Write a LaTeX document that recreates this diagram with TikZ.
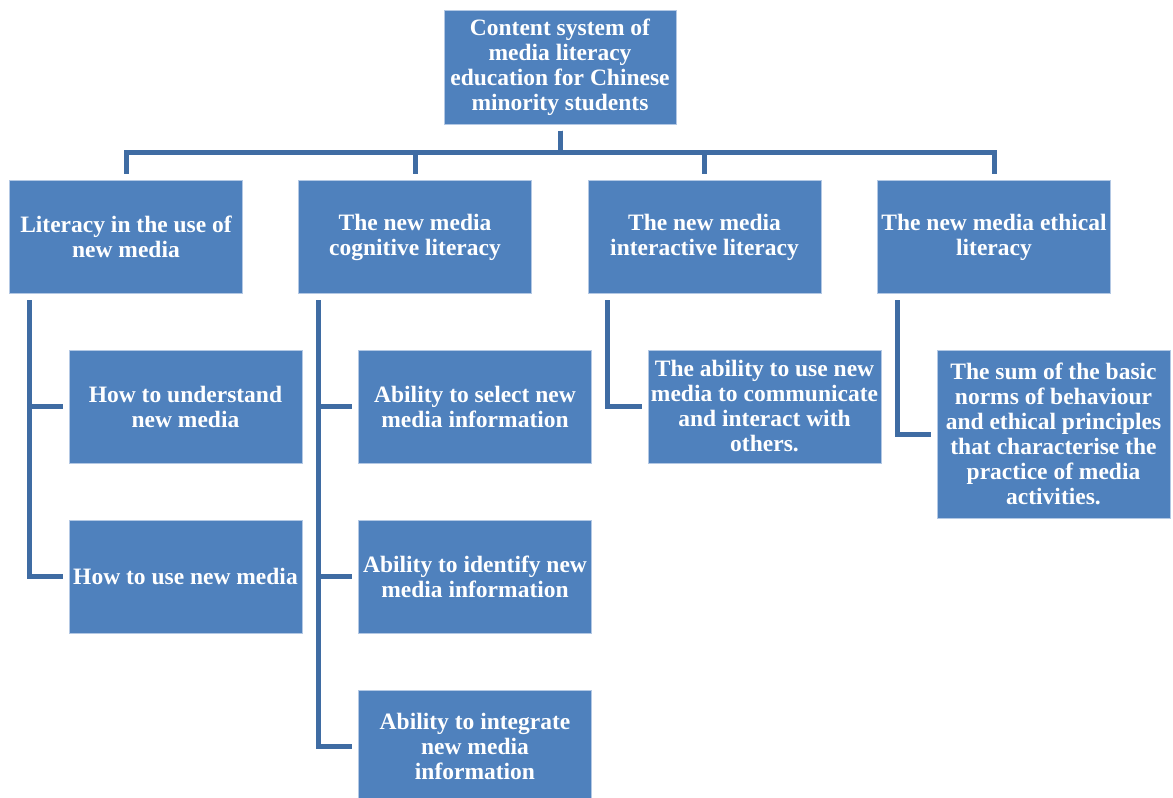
\documentclass[tikz,border=0pt]{standalone}
\usepackage{fontspec}
\setmainfont{Liberation Serif}
\definecolor{boxfill}{HTML}{4F81BD}
\definecolor{boxedge}{HTML}{B3C8E4}
\definecolor{linecol}{HTML}{3F6CA3}
\begin{document}
\begin{tikzpicture}[x=1pt,y=-1pt,
  box/.style={draw=boxedge, line width=1pt, fill=boxfill, text=white,
    font=\bfseries\fontsize{23.5}{25}\selectfont, align=center,
    minimum width=233pt, minimum height=113pt, inner sep=0pt},
  conn/.style={draw=linecol, line width=5pt, shorten <=6pt, shorten >=6pt}]
\useasboundingbox (0,0) rectangle (1173,798);
\node[box, minimum width=232pt, minimum height=114pt] (root) at (560,67) {Content system of\\media literacy\\education for Chinese\\minority students};
\node[box] (a) at (126,237) {Literacy in the use of\\new media};
\node[box] (b) at (415,237) {The new media\\cognitive literacy};
\node[box] (c) at (704.5,237) {The new media\\interactive literacy};
\node[box] (d) at (994,237) {The new media ethical\\literacy};
\node[box] (a1) at (185.5,406.5) {How to understand\\new media};
\node[box] (a2) at (185.5,576.5) {How to use new media};
\node[box] (b1) at (475,406.5) {Ability to select new\\media information};
\node[box] (b2) at (475,576.5) {Ability to identify new\\media information};
\node[box] (b3) at (475,746.5) {Ability to integrate\\new media\\information};
\node[box] (c1) at (764.5,406.5) {The ability to use new\\media to communicate\\and interact with\\others.};
\node[box, minimum height=168pt] (d1) at (1053.5,434) {The sum of the basic\\norms of behaviour\\and ethical principles\\that characterise the\\practice of media\\activities.};
\foreach \t in {a,b,c,d}{
  \draw[conn] (root.south) -- ++(0,28) -| (\t.north);
}
\draw[conn] ([xshift=20pt]a.south west) |- (a1.west);
\draw[conn] ([xshift=20pt]a.south west) |- (a2.west);
\draw[conn] ([xshift=20pt]b.south west) |- (b1.west);
\draw[conn] ([xshift=20pt]b.south west) |- (b2.west);
\draw[conn] ([xshift=20pt]b.south west) |- (b3.west);
\draw[conn] ([xshift=20pt]c.south west) |- (c1.west);
\draw[conn] ([xshift=20pt]d.south west) |- (d1.west);
\end{tikzpicture}
\end{document}
